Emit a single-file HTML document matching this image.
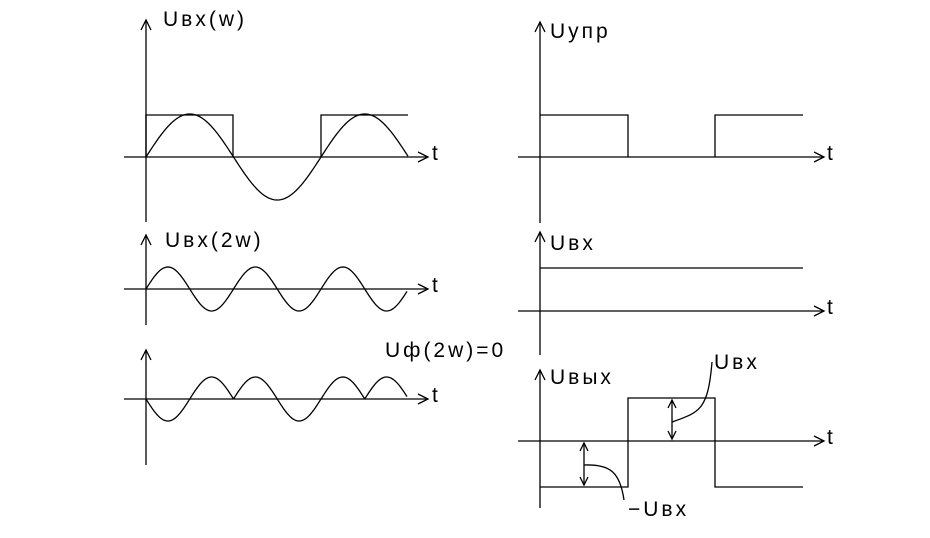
<!DOCTYPE html>
<html><head><meta charset="utf-8"><style>
html,body{margin:0;padding:0;background:#fff;width:930px;height:538px;overflow:hidden}
svg{display:block}
text{font-family:"Liberation Sans","DejaVu Sans",sans-serif;font-size:21px;fill:#000;letter-spacing:3px;font-weight:normal}
</style></head><body>
<svg id="s" width="930" height="538" viewBox="0 0 930 538" fill="none" stroke="#000" stroke-width="1.3">
<line x1="146" y1="20" x2="146" y2="222"/><polyline points="141,30 146,20 151,30"/>
<line x1="124" y1="157" x2="428" y2="157"/><polyline points="418,152 428,157 418,162"/>
<polyline points="146,157 146,115 233,115 233,157"/>
<polyline points="321,157 321,115 408,115"/>
<path id="p1"/>
<text x="163" y="26" stroke="none">Uвх(w)</text>
<text x="432" y="160" stroke="none">t</text>
<line x1="146" y1="235" x2="146" y2="325"/><polyline points="141,245 146,235 151,245"/>
<line x1="124" y1="289" x2="428" y2="289"/><polyline points="418,284 428,289 418,294"/>
<path id="p2"/>
<text x="165" y="247" stroke="none">Uвх(2w)</text>
<text x="432" y="292" stroke="none">t</text>
<line x1="146" y1="350" x2="146" y2="465"/><polyline points="141,360 146,350 151,360"/>
<line x1="124" y1="399" x2="428" y2="399"/><polyline points="418,394 428,399 418,404"/>
<path id="p3"/>
<text x="385" y="357" stroke="none">Uф(2w)=0</text>
<text x="432" y="402" stroke="none">t</text>
<line x1="540" y1="22" x2="540" y2="223"/><polyline points="535,32 540,22 545,32"/>
<line x1="518" y1="157" x2="824" y2="157"/><polyline points="814,152 824,157 814,162"/>
<polyline points="540,115 628,115 628,157"/>
<polyline points="715,157 715,115 803,115"/>
<text x="550" y="38" stroke="none">Uупр</text>
<text x="827" y="160" stroke="none">t</text>
<line x1="540" y1="232" x2="540" y2="355"/><polyline points="535,242 540,232 545,242"/>
<line x1="540" y1="268" x2="803" y2="268"/>
<line x1="518" y1="311" x2="824" y2="311"/><polyline points="814,306 824,311 814,316"/>
<text x="550" y="250" stroke="none">Uвх</text>
<text x="827" y="314" stroke="none">t</text>
<line x1="540" y1="370" x2="540" y2="508"/><polyline points="535,380 540,370 545,380"/>
<line x1="518" y1="441" x2="824" y2="441"/><polyline points="814,436 824,441 814,446"/>
<polyline points="540,487 628,487 628,398 715,398 715,487 803,487"/>
<line x1="584" y1="443" x2="584" y2="485"/><polyline points="580,451 584,443 588,451"/><polyline points="580,477 584,485 588,477"/>
<line x1="672" y1="400" x2="672" y2="439"/><polyline points="668,408 672,400 676,408"/><polyline points="668,431 672,439 676,431"/>
<path d="M584,465 C610,464 620,472 624,500"/>
<path d="M672,422 C700,412 708,410 712,362"/>
<text x="550" y="384" stroke="none">Uвых</text>
<text x="827" y="444" stroke="none">t</text>
<text x="714" y="369" stroke="none">Uвх</text>
<text x="628" y="516" stroke="none">−Uвх</text>
</svg>
<script>
function mk(f,x0,x1){var d="";for(var x=x0;x<=x1;x+=1){d+=(x==x0?"M":"L")+x+","+f(x).toFixed(2)+" ";}return d;}
document.getElementById("p1").setAttribute("d",mk(function(x){return 157-43*Math.sin(2*Math.PI*(x-146)/175);},146,408));
document.getElementById("p2").setAttribute("d",mk(function(x){return 289-22*Math.sin(2*Math.PI*(x-146)/87.5);},146,407));
var sg=[-1,1,1,-1,1,1];
document.getElementById("p3").setAttribute("d",mk(function(x){var u=(x-146)/43.75;var i=Math.min(5,Math.floor(u));return 399-22*sg[i]*Math.abs(Math.sin(Math.PI*u));},146,407));
</script>
</body></html>
